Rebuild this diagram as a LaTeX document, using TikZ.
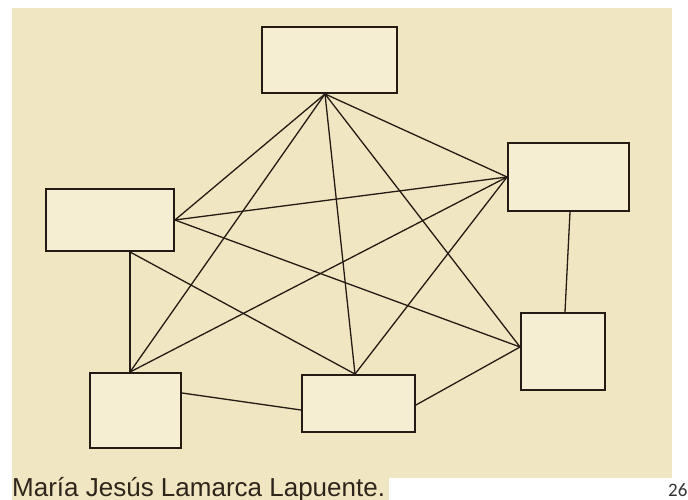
\documentclass[tikz,border=0pt]{standalone}
\usepackage{fontspec}
\setmainfont{Liberation Sans}
\newfontfamily\pagenumfont{Carlito}
\definecolor{parch}{HTML}{F1E6C2}
\definecolor{boxfill}{HTML}{F6EED3}
\definecolor{inkc}{HTML}{241B14}
\definecolor{textc}{HTML}{2E261C}
\tikzset{
  card/.style={draw=inkc, line width=1.9pt, fill=boxfill, inner sep=0pt, rectangle},
  link/.style={draw=inkc, line width=1.3pt},
}
\begin{document}
\begin{tikzpicture}[x=1pt,y=-1pt]
\useasboundingbox (0,0) rectangle (688,500);
\fill[white] (0,0) rectangle (688,500);
\fill[parch] (12,8) rectangle (672,478);
\fill[parch] (12,477) rectangle (389,500);
% boxes
\node[card, minimum width=135pt, minimum height=66pt] (A) at (329.5,60) {};
\node[card, minimum width=128pt, minimum height=62pt] (B) at (110,220) {};
\node[card, minimum width=121pt, minimum height=68pt] (C) at (568.5,177) {};
\node[card, minimum width=84pt,  minimum height=77pt] (D) at (563,351.5) {};
\node[card, minimum width=91pt,  minimum height=75pt] (E) at (135.5,410.5) {};
\node[card, minimum width=113pt, minimum height=57pt] (F) at (358.5,403.5) {};
% connectors from A
\draw[link] ([xshift=-4.5pt]A.south) -- (B.east);
\draw[link] ([xshift=-4.5pt]A.south) -- (C.west);
\draw[link] ([xshift=-4.5pt]A.south) -- ([xshift=-5.5pt]E.north);
\draw[link] ([xshift=-4.5pt]A.south) -- ([xshift=-3.5pt]F.north);
\draw[link] ([xshift=-4.5pt]A.south) -- ([yshift=4.5pt]D.west);
% from B
\draw[link] (B.east) -- (C.west);
\draw[link] (B.east) -- ([yshift=4.5pt]D.west);
\draw[link] ([xshift=20pt]B.south) -- ([xshift=-5.5pt]E.north);
\draw[link] ([xshift=20pt]B.south) -- ([xshift=-3.5pt]F.north);
% from C
\draw[link] (C.west) -- ([xshift=-5.5pt]E.north);
\draw[link] (C.west) -- ([xshift=-3.5pt]F.north);
\draw[link] ([xshift=1.5pt]C.south) -- ([xshift=2pt]D.north);
% bottom
\draw[link] ([yshift=17.5pt]E.east) -- ([yshift=-6.5pt]F.west);
\draw[link] ([yshift=-1.5pt]F.east) -- ([yshift=4.5pt]D.west);
% texts
\node[anchor=base west, inner sep=0pt, text=textc, font=\fontsize{26}{28}\selectfont] (author) at (12,496) {María Jesús Lamarca Lapuente.};
\node[anchor=base west, inner sep=0pt, text=black!80, font=\pagenumfont\fontsize{19}{21}\selectfont] (pnum) at (668,496) {26};
\end{tikzpicture}
\end{document}
